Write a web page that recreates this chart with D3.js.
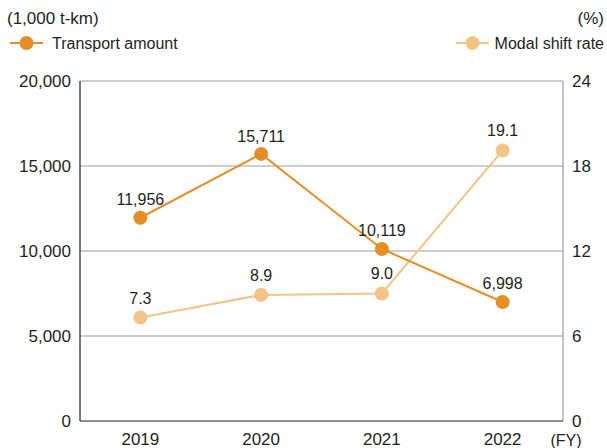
<!DOCTYPE html>
<html><head><meta charset="utf-8">
<script src="https://cdn.jsdelivr.net/npm/d3@7"></script>
<style>
body{margin:0;background:#fff;}
text{font-family:"Liberation Sans",Arial,sans-serif;fill:#231f20;}
</style></head>
<body>
<svg id="c" width="607" height="448"></svg>
<script>
const years = ["2019","2020","2021","2022"];
const transport = [11956, 15711, 10119, 6998];
const transportLabels = ["11,956","15,711","10,119","6,998"];
const modalShift = [7.3, 8.9, 9.0, 19.1];
const modalLabels = ["7.3","8.9","9.0","19.1"];
const leftTicks = [0, 5000, 10000, 15000, 20000];
const rightTicks = [0, 6, 12, 18, 24];

const darkC = "#E68E26", lightC = "#F2C485";
const svg = d3.select("#c");
const L = 80, R = 563, T = 81, B = 421;
const x = d3.scaleBand().domain(years).range([L, R]).padding(0);
const yL = d3.scaleLinear().domain([0, 20000]).range([B, T]);
const yR = d3.scaleLinear().domain([0, 24]).range([B, T]);
const fmt = d3.format(",");

// gridlines
svg.append("g").selectAll("line").data(leftTicks.filter(d => d > 0)).join("line")
  .attr("x1", L).attr("x2", R).attr("y1", d => yL(d)).attr("y2", d => yL(d))
  .attr("stroke", "#9d9d9d").attr("stroke-width", 1);

// right axis line
svg.append("line").attr("x1", R).attr("x2", R).attr("y1", T).attr("y2", B)
  .attr("stroke", "#8a8a8a").attr("stroke-width", 1);
// left axis line
svg.append("line").attr("x1", L).attr("x2", L).attr("y1", T).attr("y2", B)
  .attr("stroke", "#231f20").attr("stroke-width", 1.2);
// bottom axis line
svg.append("line").attr("x1", L).attr("x2", R).attr("y1", B).attr("y2", B)
  .attr("stroke", "#231f20").attr("stroke-width", 1.2);

// tick labels
svg.append("g").selectAll("text").data(leftTicks).join("text")
  .attr("x", 71).attr("y", d => yL(d)).attr("dy", "0.35em")
  .attr("text-anchor", "end").attr("font-size", 17).text(d => fmt(d));
svg.append("g").selectAll("text").data(rightTicks).join("text")
  .attr("x", 572).attr("y", d => yR(d)).attr("dy", "0.35em")
  .attr("text-anchor", "start").attr("font-size", 17).text(d => d);
svg.append("g").selectAll("text").data(years).join("text")
  .attr("x", d => x(d) + x.bandwidth() / 2).attr("y", 445)
  .attr("text-anchor", "middle").attr("font-size", 17).text(d => d);
svg.append("text").attr("x", 566).attr("y", 446).attr("text-anchor", "middle")
  .attr("font-size", 16).text("(FY)");

// units
svg.append("text").attr("x", 7).attr("y", 24).attr("font-size", 17).text("(1,000 t-km)");
svg.append("text").attr("x", 604).attr("y", 24).attr("text-anchor", "end").attr("font-size", 17).text("(%)");

// series
const cx = d => x(d) + x.bandwidth() / 2;
function series(vals, labels, ys, color, dy) {
  const data = years.map((y, i) => ({ y, v: vals[i], l: labels[i], dy: dy[i] }));
  svg.append("path").datum(data)
    .attr("d", d3.line().x(d => cx(d.y)).y(d => ys(d.v)))
    .attr("fill", "none").attr("stroke", color).attr("stroke-width", 2);
  svg.append("g").selectAll("circle").data(data).join("circle")
    .attr("cx", d => cx(d.y)).attr("cy", d => ys(d.v)).attr("r", 7)
    .attr("fill", color);
  svg.append("g").selectAll("text").data(data).join("text")
    .attr("x", d => cx(d.y)).attr("y", d => ys(d.v) + d.dy)
    .attr("text-anchor", "middle").attr("font-size", 16).text(d => d.l);
}
series(modalShift, modalLabels, yR, lightC, [-14, -14, -15, -14]);
series(transport, transportLabels, yL, darkC, [-13, -12, -13, -13]);

// legend
function legend(x0, x1, tx, anchor, color, label) {
  svg.append("line").attr("x1", x0).attr("x2", x1).attr("y1", 43).attr("y2", 43)
    .attr("stroke", color).attr("stroke-width", 2);
  svg.append("circle").attr("cx", (x0 + x1) / 2).attr("cy", 43).attr("r", 7).attr("fill", color);
  svg.append("text").attr("x", tx).attr("y", 43).attr("dy", "0.35em")
    .attr("text-anchor", anchor).attr("font-size", 16).text(label);
}
legend(10, 43, 52, "start", darkC, "Transport amount");
legend(456, 489, 604, "end", lightC, "Modal shift rate");
</script>
</body></html>
